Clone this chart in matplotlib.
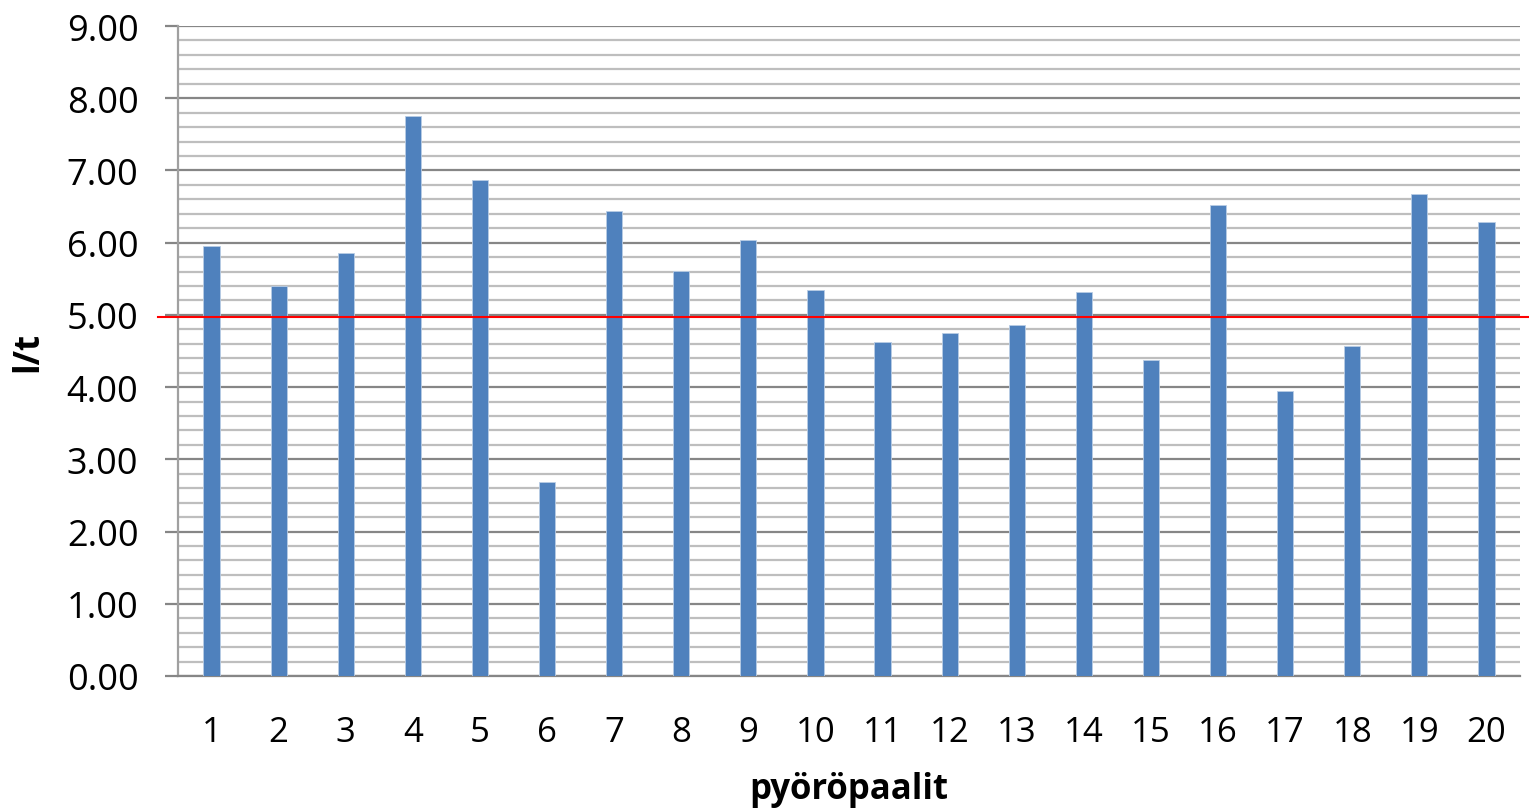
import numpy as np
import matplotlib.pyplot as plt
from matplotlib.ticker import MultipleLocator

# bale numbers and l/t values
paalit = [str(x) for x in range(1, 21)]
arvot = [5.96, 5.40, 5.86, 7.76, 6.87, 2.69, 6.44, 5.61, 6.04, 5.35,
         4.63, 4.75, 4.86, 5.32, 4.38, 6.52, 3.95, 4.57, 6.68, 6.29]
raja = 4.97

plt.rcParams['font.family'] = ['Open Sans', 'DejaVu Sans']

fig = plt.figure(figsize=(15.29, 8.12), dpi=100)
ax = fig.add_axes([178/1529, 1-677/812, (1520-178)/1529, (677-27)/812])

x = np.arange(len(paalit))
ax.bar(x, arvot, width=0.24, color='#4F81BD', edgecolor='#B9CDE5', linewidth=0.6, zorder=3)

ax.set_xlim(-0.5, len(paalit) - 0.5)
ax.set_ylim(0, 9)
ax.yaxis.set_major_locator(MultipleLocator(1))
ax.yaxis.set_minor_locator(MultipleLocator(0.2))
ax.yaxis.set_major_formatter(lambda v, p: '%.2f' % v)
ax.grid(which='major', axis='y', color='#868686', linewidth=1.6, zorder=1)
ax.grid(which='minor', axis='y', color='#BEBEBE', linewidth=1.6, zorder=1)

# red limit line, runs a bit past the plot area
ax.axhline(raja, xmin=-0.015, xmax=1.01, color='#FF0000', linewidth=1.5, clip_on=False, zorder=4)

ax.set_xticks(x)
ax.set_xticklabels(paalit)
ax.tick_params(axis='x', length=0, pad=28, labelsize=25)
ax.tick_params(axis='y', which='major', length=9.5, width=1.6, color='#868686', labelsize=26, pad=19)
ax.tick_params(axis='y', which='minor', length=0)

for s in ['top', 'right']:
    ax.spines[s].set_visible(False)
ax.spines['left'].set_color('#A0A0A0')
ax.spines['left'].set_linewidth(1.6)
ax.spines['bottom'].set_color('#868686')
ax.spines['bottom'].set_linewidth(1.6)

ax.set_xlabel('pyöröpaalit', fontsize=25, fontweight='bold')
ax.xaxis.set_label_coords(0.5, (677-772)/650)
ax.set_ylabel('l/t', fontsize=25, fontweight='bold')
ax.yaxis.set_label_coords((46-178)/1342, 0.5)

fig.savefig('out.png', dpi=100)
